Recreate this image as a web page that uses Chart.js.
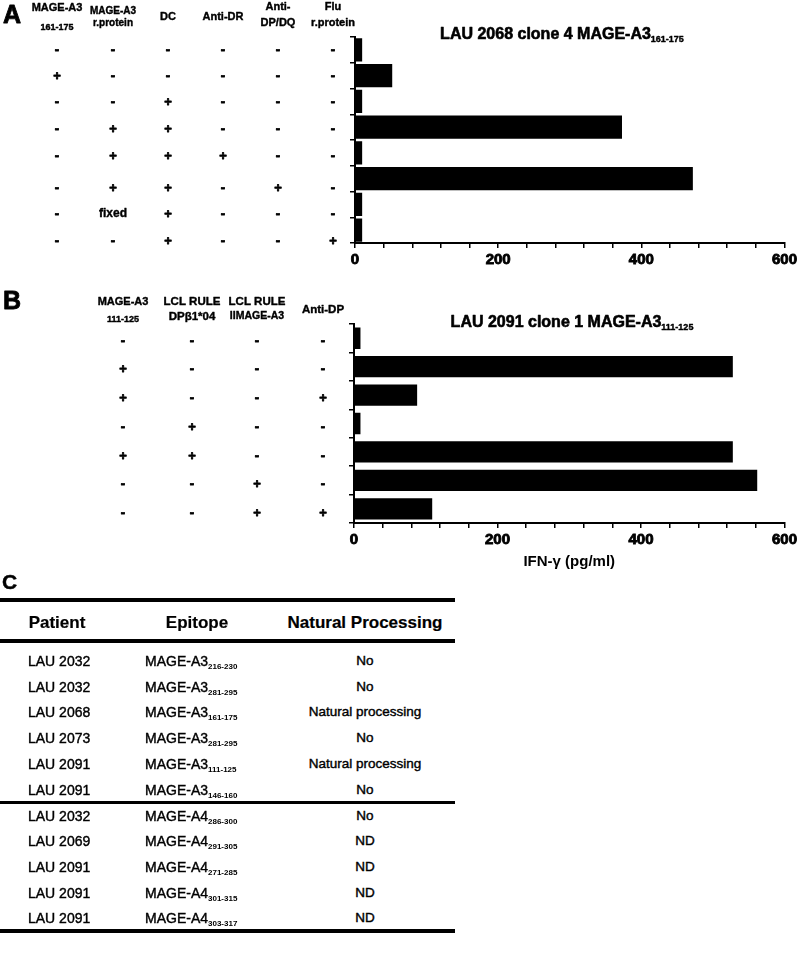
<!DOCTYPE html>
<html>
<head>
<meta charset="utf-8">
<script src="https://cdn.jsdelivr.net/npm/chart.js@4"></script>
<style>
  body { margin: 0; background: #fff; }
  #wrap { position: relative; width: 800px; height: 963px; font-family: 'Liberation Sans', Arial, sans-serif; color: #000; }
  canvas { position: absolute; left: 0; }
  #chartA { top: 0; }
  #chartB { top: 280px; }
  .rule { position: absolute; left: 0; width: 455px; background: #000; }
  .cell { position: absolute; white-space: nowrap; line-height: 1; transform: translateY(-50%); -webkit-text-stroke: 0.4px #000; }
  .cell sub { font-size: 8px; font-weight: bold; vertical-align: -3px; line-height: 0; -webkit-text-stroke: 0; }
  .hdr { font-weight: bold; font-size: 17px; transform: translate(-50%, -50%); -webkit-text-stroke: 0.2px #000; }
  .ctr { transform: translate(-50%, -50%); }
</style>
</head>
<body>
<div id="wrap">
  <canvas id="chartA" width="800" height="280"></canvas>
  <canvas id="chartB" width="800" height="295"></canvas>
</div>
<script>
// ---- panel A data ----
const headersA = [['MAGE-A3', '161-175'], ['MAGE-A3', 'r.protein'], ['DC'], ['Anti-DR'], ['Anti-', 'DP/DQ'], ['Flu', 'r.protein']];
const rowsA = [
  ['-', '-', '-', '-', '-', '-'],
  ['+', '-', '-', '-', '-', '-'],
  ['-', '-', '+', '-', '-', '-'],
  ['-', '+', '+', '-', '-', '-'],
  ['-', '+', '+', '+', '-', '-'],
  ['-', '+', '+', '-', '+', '-'],
  ['-', 'fixed', '+', '-', '-', '-'],
  ['-', '-', '+', '-', '-', '+']
];
const valuesA = [10, 52, 10, 373, 10, 472, 10, 10];

// ---- panel B data ----
const headersB = [['MAGE-A3', '111-125'], ['LCL RULE', 'DPβ1*04'], ['LCL RULE', 'IIMAGE-A3'], ['Anti-DP']];
const rowsB = [
  ['-', '-', '-', '-'],
  ['+', '-', '-', '-'],
  ['+', '-', '-', '+'],
  ['-', '+', '-', '-'],
  ['+', '+', '-', '-'],
  ['-', '-', '+', '-'],
  ['-', '-', '+', '+']
];
const valuesB = [9, 528, 88, 9, 528, 562, 109];

const xTicks = [0, 200, 400, 600];

// ---- panel C data ----
const patients = ['LAU 2032', 'LAU 2032', 'LAU 2068', 'LAU 2073', 'LAU 2091', 'LAU 2091', 'LAU 2032', 'LAU 2069', 'LAU 2091', 'LAU 2091', 'LAU 2091'];
const antigens = ['MAGE-A3', 'MAGE-A3', 'MAGE-A3', 'MAGE-A3', 'MAGE-A3', 'MAGE-A3', 'MAGE-A4', 'MAGE-A4', 'MAGE-A4', 'MAGE-A4', 'MAGE-A4'];
const ranges = ['216-230', '281-295', '161-175', '281-295', '111-125', '146-160', '286-300', '291-305', '271-285', '301-315', '303-317'];
const processing = ['No', 'No', 'Natural processing', 'No', 'Natural processing', 'No', 'No', 'ND', 'ND', 'ND', 'ND'];

const FONT = "'Liberation Sans', Arial, sans-serif";

// heavier text, the scan looks darker than plain bold
function heavyText(ctx, txt, x, y, w) {
  ctx.lineWidth = w;
  ctx.strokeText(txt, x, y);
  ctx.fillText(txt, x, y);
}

function drawSub(ctx, main, sub, cx, cy, size, subSize) {
  ctx.font = 'bold ' + size + 'px ' + FONT;
  const w1 = ctx.measureText(main).width;
  ctx.font = 'bold ' + subSize + 'px ' + FONT;
  const w2 = ctx.measureText(sub).width;
  const x0 = cx - (w1 + w2) / 2;
  ctx.textAlign = 'left';
  ctx.font = 'bold ' + size + 'px ' + FONT;
  heavyText(ctx, main, x0, cy, 0.6);
  ctx.font = 'bold ' + subSize + 'px ' + FONT;
  heavyText(ctx, sub, x0 + w1, cy + size * 0.3, 0.4);
}

// draws the condition grid, the panel letter and the title
function gridPlugin(cfg) {
  return {
    id: 'grid' + cfg.letter,
    afterDraw(chart) {
      const ctx = chart.ctx;
      ctx.save();
      ctx.fillStyle = '#000';
      ctx.strokeStyle = '#000';
      ctx.lineJoin = 'round';
      ctx.textBaseline = 'middle';
      ctx.textAlign = 'left';
      ctx.font = 'bold 25px ' + FONT;
      heavyText(ctx, cfg.letter, 3, cfg.letterY, 0.8);
      cfg.headers.forEach((lines, c) => {
        lines.forEach((txt, k) => {
          const st = cfg.headStyle[c][k];
          ctx.textAlign = 'center';
          ctx.font = 'bold ' + st[1] + 'px ' + FONT;
          heavyText(ctx, txt, cfg.colX[c], st[0], 0.4);
        });
      });
      cfg.rows.forEach((row, r) => {
        row.forEach((s, c) => {
          ctx.textAlign = 'center';
          ctx.font = 'bold ' + (s === 'fixed' ? 12 : 13) + 'px ' + FONT;
          heavyText(ctx, s, cfg.colX[c], cfg.rowY[r], s === 'fixed' ? 0.4 : 0.8);
        });
      });
      drawSub(ctx, cfg.title[0], cfg.title[1], cfg.titleX, cfg.titleY, 16, 9);
      ctx.restore();
    }
  };
}

function makeChart(id, values, pad, xHeight, barPct, withTitle, plugin) {
  return new Chart(document.getElementById(id), {
    type: 'bar',
    data: {
      labels: values.map((v, i) => String(i + 1)),
      datasets: [{ data: values, backgroundColor: '#000', borderWidth: 0, barPercentage: barPct, categoryPercentage: 1 }]
    },
    options: {
      indexAxis: 'y',
      responsive: false,
      animation: false,
      devicePixelRatio: 1,
      layout: { padding: pad },
      plugins: { legend: { display: false }, tooltip: { enabled: false } },
      scales: {
        x: {
          min: 0, max: 600,
          afterBuildTicks: (s) => { s.ticks = []; for (let v = 0; v <= 600; v += 40) s.ticks.push({ value: v }); },
          grid: { drawOnChartArea: false, drawTicks: true, tickLength: 5, color: '#000', lineWidth: 1.5 },
          border: { color: '#000', width: 2 },
          ticks: {
            autoSkip: false, maxRotation: 0, padding: 3, color: '#000',
            textStrokeColor: '#000', textStrokeWidth: 0.9,
            font: { family: FONT, size: 15, weight: 'bold' },
            callback: (v) => xTicks.includes(v) ? String(v) : ''
          },
          title: {
            display: withTitle, text: 'IFN-γ (pg/ml)', color: '#000',
            font: { family: FONT, size: 15, weight: 'bold' }, padding: 0
          },
          afterFit: (s) => { s.height = xHeight; }
        },
        y: {
          grid: { drawOnChartArea: false, drawTicks: true, tickLength: 5, color: '#000', lineWidth: 1.5, offset: true },
          border: { color: '#000', width: 2 },
          ticks: { callback: () => '' },
          afterFit: (s) => { s.width = 8; }
        }
      }
    },
    plugins: [plugin]
  });
}

makeChart('chartA', valuesA, { left: 347, right: 13, top: 37, bottom: 7 }, 30, 0.9, false, gridPlugin({
  letter: 'A', letterY: 16,
  headers: headersA,
  colX: [57, 113, 168, 223, 278, 333],
  headStyle: [[[8, 11], [28, 9]], [[11, 10], [23, 10]], [[17, 11]], [[17, 11]], [[7, 11], [23, 11]], [[7, 11], [23, 11]]],
  rows: rowsA,
  rowY: [50, 76, 102, 129, 156, 188, 214, 241],
  title: ['LAU 2068 clone 4 MAGE-A3', '161-175'], titleX: 562, titleY: 35
}));

makeChart('chartB', valuesB, { left: 346, right: 14, top: 44, bottom: 4 }, 48, 0.75, true, gridPlugin({
  letter: 'B', letterY: 22,
  headers: headersB,
  colX: [123, 192, 257, 323],
  headStyle: [[[22, 11], [40, 9]], [[22, 11.5], [37, 11.5]], [[22, 11.5], [36, 10.5]], [[30, 11.5]]],
  rows: rowsB,
  rowY: [61, 89, 118, 147, 176, 204, 233],
  title: ['LAU 2091 clone 1 MAGE-A3', '111-125'], titleX: 572, titleY: 43
}));

// ---- panel C table ----
const wrap = document.getElementById('wrap');
function add(cls, style, html) {
  const d = document.createElement('div');
  d.className = cls;
  d.setAttribute('style', style);
  d.innerHTML = html;
  wrap.appendChild(d);
}
add('cell', 'left:2px;top:581px;font-weight:bold;font-size:21px;', 'C');
add('rule', 'top:598px;height:4px;', '');
add('cell hdr', 'left:57px;top:622px;', 'Patient');
add('cell hdr', 'left:197px;top:622px;', 'Epitope');
add('cell hdr', 'left:365px;top:622px;', 'Natural Processing');
add('rule', 'top:639px;height:4px;', '');
patients.forEach((p, i) => {
  const y = i < 6 ? 661 + i * 25.7 : 815.5 + (i - 6) * 25.7;
  add('cell', 'left:28px;top:' + y + 'px;font-size:14px;', p);
  add('cell', 'left:145px;top:' + y + 'px;font-size:14px;', antigens[i] + '<sub>' + ranges[i] + '</sub>');
  add('cell ctr', 'left:365px;top:' + y + 'px;font-size:13.5px;', processing[i]);
});
add('rule', 'top:801px;height:2.5px;', '');
add('rule', 'top:929px;height:4px;', '');
</script>
</body>
</html>
